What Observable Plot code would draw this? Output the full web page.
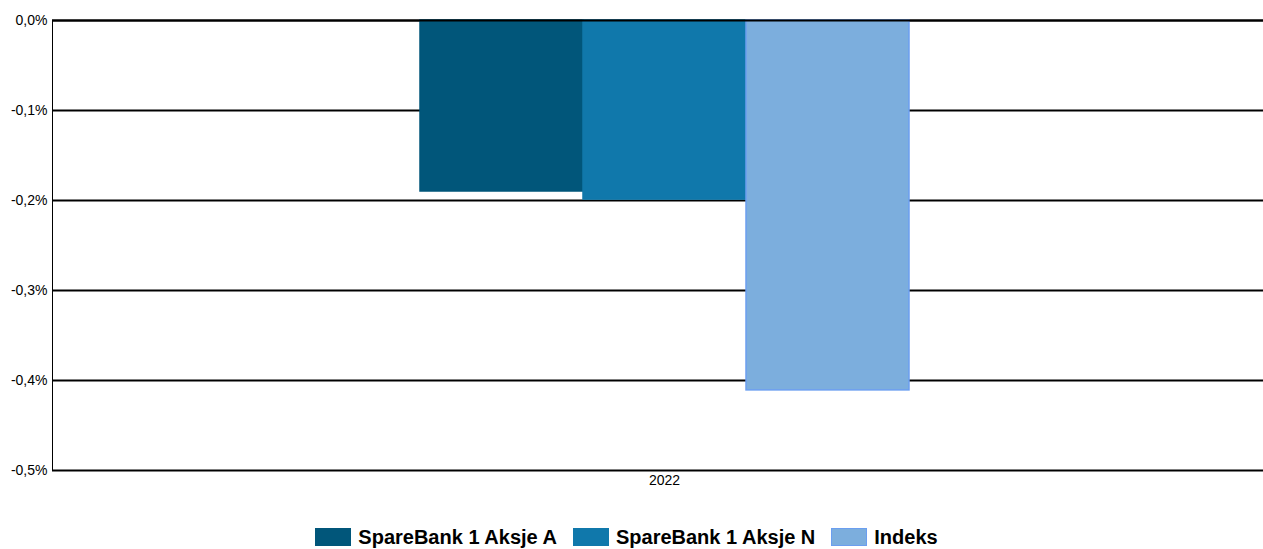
<!DOCTYPE html>
<html><head><meta charset="utf-8">
<script src="https://cdn.jsdelivr.net/npm/d3@7"></script>
<script src="https://cdn.jsdelivr.net/npm/@observablehq/plot@0.6"></script>
<style>
body{margin:0;background:#fff;font-family:"Liberation Sans",Arial,sans-serif;overflow:hidden;}
#chart{width:1263px;height:510px;overflow:hidden;}
#chart svg{max-width:none !important;}
#legend{width:1263px;height:22px;line-height:22px;display:flex;justify-content:center;align-items:center;gap:16px;margin-top:16px;font-family:"Liberation Sans Narrow","Liberation Sans",sans-serif;font-weight:bold;font-size:20px;color:#000;transform:translateX(-5px);}
.item{display:flex;align-items:center;gap:7px;}
.sw{width:36px;height:18px;box-sizing:border-box;}
</style></head>
<body>
<div id="chart"></div>
<div id="legend"></div>
<script>
const years = ["2022"];
const series = ["SpareBank 1 Aksje A", "SpareBank 1 Aksje N", "Indeks"];
const values = [-0.19, -0.199, -0.411];
const colors = ["#01567a", "#1078ab", "#7caedd"];
const strokes = ["#01567a", "#1078ab", "#6b9ef0"];
const yTicks = [0, -0.1, -0.2, -0.3, -0.4, -0.5];

const data = series.map((s, i) => ({year: years[0], series: s, value: values[i]}));
const fmt = v => (v === 0 ? "0,0" : d3.format(".1f")(v).replace("−","-").replace(".", ",")) + "%";

const chart = Plot.plot({
  width: 1276,
  height: 510,
  marginLeft: 52,
  marginRight: 0,
  marginTop: 20,
  marginBottom: 40,
  style: {fontFamily: "'Liberation Sans', Arial, sans-serif", fontSize: "14px", color: "#000", maxWidth: "none"},
  fx: {domain: years, padding: 0, label: null, tickSize: 0, tickPadding: 5},
  x: {domain: series, paddingInner: 0, paddingOuter: 2.247, axis: null},
  y: {domain: [-0.5, 0], ticks: yTicks, tickFormat: fmt, label: null, tickSize: 0, tickPadding: 5, line: true},
  color: {domain: series, range: colors},
  marks: [
    Plot.ruleY(yTicks, {stroke: "#000", strokeWidth: 1.8}),
    Plot.barY(data, {fx: "year", x: "series", y: "value", fill: "series", stroke: d => strokes[series.indexOf(d.series)], strokeWidth: 1.5}),
    Plot.ruleY([0], {stroke: "#000", strokeWidth: 2})
  ]
});
chart.querySelectorAll('g[aria-label="y-axis line"] path, g[aria-label="y-axis line"]').forEach(e => e.setAttribute("stroke-width", 2));
document.getElementById("chart").appendChild(chart);

const legend = document.getElementById("legend");
series.forEach((s, i) => {
  const it = document.createElement("div");
  it.className = "item";
  const sw = document.createElement("div");
  sw.className = "sw";
  sw.style.background = colors[i];
  sw.style.border = "1px solid " + strokes[i];
  const t = document.createElement("span");
  t.textContent = s;
  it.appendChild(sw); it.appendChild(t);
  legend.appendChild(it);
});
</script>
</body></html>
